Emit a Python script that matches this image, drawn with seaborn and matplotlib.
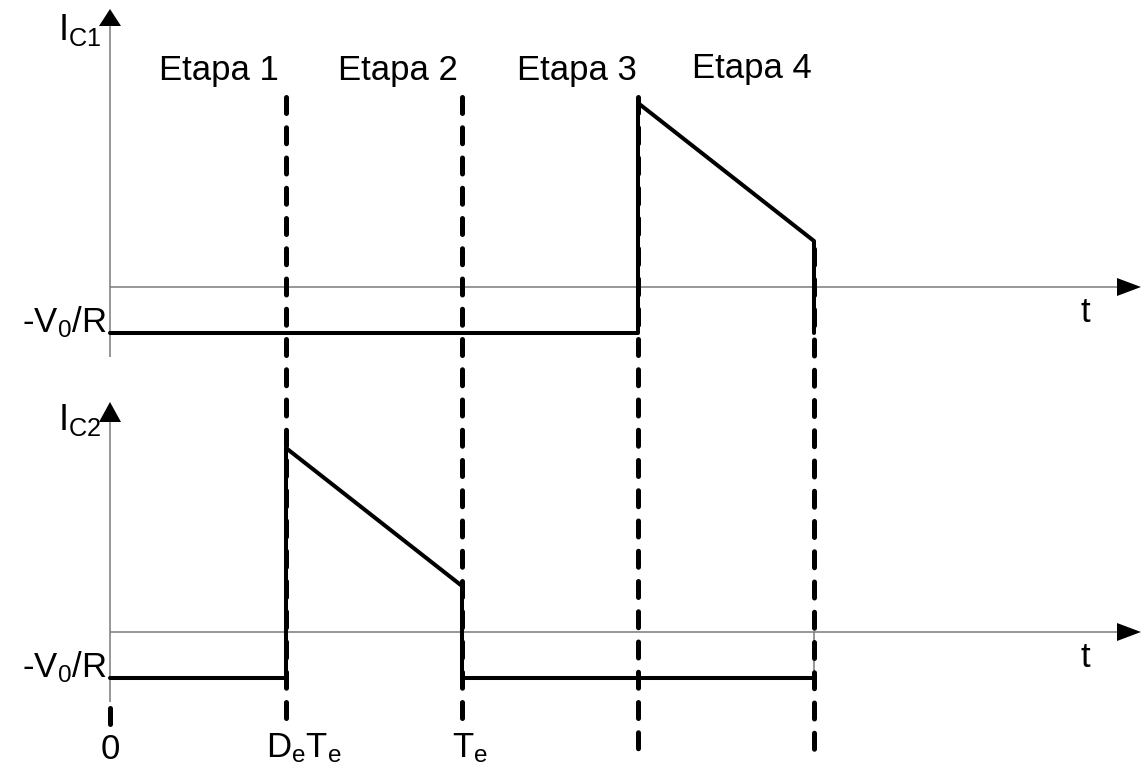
import matplotlib
matplotlib.use("Agg")
import matplotlib.pyplot as plt
import numpy as np
import pandas as pd
import seaborn as sns

sns.set_theme(style="white")
plt.rcParams["font.family"] = ["Liberation Sans", "DejaVu Sans"]
plt.rcParams["mathtext.fontset"] = "custom"
plt.rcParams["mathtext.rm"] = "Liberation Sans"
plt.rcParams["mathtext.it"] = "Liberation Sans"
plt.rcParams["text.color"] = "black"

# ---- data -------------------------------------------------------------
# switching instants, in units of the period Te
t_marks = [0.0, 0.5, 1.0, 1.5, 2.0]
mark_labels = ["0", r"$\mathrm{D_eT_e}$", r"$\mathrm{T_e}$", "", ""]
stage_labels = ["Etapa 1", "Etapa 2", "Etapa 3", "Etapa 4"]

# capacitor currents, in units of V0/R
ic1_t = [0.0, 1.5, 1.5, 2.0, 2.0]
ic1_v = [-1.0, -1.0, 4.0, 1.0, -1.0]
ic2_t = [0.0, 0.5, 0.5, 1.0, 1.0, 2.0]
ic2_v = [-1.0, -1.0, 4.0, 1.0, -1.0, -1.0]

trace_names = [r"$\mathrm{I_{C1}}$", r"$\mathrm{I_{C2}}$"]
level_label = r"-$\mathrm{V_0/R}$"

# ---- layout -----------------------------------------------------------
W, H = 1141, 765
PX_T, PX_U = 352.0, 46.0        # pixels per Te, pixels per V0/R
X0, Y0 = 110.0, 287.0           # pixel position of the upper trace origin
panel_shift = [0.0, -7.5]       # vertical position of each trace's zero
axis_top_px = [261.0, 210.0]    # height of each vertical axis above zero
arrow_len_px = [17.0, 20.0]
FS = 25
GREY = "#7a7a7a"

fig = plt.figure(figsize=(W / 100, H / 100), dpi=100)
ax = fig.add_axes([0, 0, 1, 1])
ax.set_xlim(-X0 / PX_T, (W - X0) / PX_T)
ax.set_ylim(-(H - Y0) / PX_U, Y0 / PX_U)
ax.axis("off")

def px_t(p):
    return p / PX_T

def px_u(p):
    return p / PX_U

# ---- coordinate axes with arrow heads ----------------------------------
x_tip = (W - X0) / PX_T
for k, o in enumerate(panel_shift):
    top = o + px_u(axis_top_px[k])
    ax.plot([0, 0], [top, o - px_u(70)], color=GREY, lw=1.1, solid_capstyle="butt", zorder=1)
    ax.fill([-px_t(11), px_t(11), 0], [top, top, top + px_u(arrow_len_px[k])],
            color="black", lw=0, zorder=3)
    ax.plot([0, x_tip - px_t(20)], [o, o], color=GREY, lw=1.1, solid_capstyle="butt", zorder=1)
    ax.fill([x_tip - px_t(24), x_tip - px_t(24), x_tip],
            [o + px_u(9), o - px_u(9), o], color="black", lw=0, zorder=3)
    ax.annotate("t", (t_marks[-1], o), xytext=(1085 - X0 - PX_T * t_marks[-1], -35),
                textcoords="offset pixels", ha="center", va="baseline", fontsize=FS)
    ax.annotate(trace_names[k], (0, o), xytext=(-9, axis_top_px[k] - 14 + (k * 6)),
                textcoords="offset pixels", ha="right", va="baseline", fontsize=FS + 1)
    ax.annotate(level_label, (0, o - 1), xytext=(-3, 1),
                textcoords="offset pixels", ha="right", va="baseline", fontsize=FS)

# ---- dashed stage boundaries ------------------------------------------
LW_DASH = 3.6                    # points; 5 px at 100 dpi
pattern = (3.2, 2.85)            # in line widths
period_px = sum(pattern) * 5.0
top_px = 100.0
bottoms = {0.5: 727.0, 1.0: 727.0, 1.5: 756.0, 2.0: 756.0}
for t in t_marks[1:]:
    start_px = top_px - 2.5
    y_top = px_u(Y0 - start_px)
    offset = 0.0
    if t == t_marks[-1]:
        y_top = ic1_v[3]
        start = Y0 - PX_U * ic1_v[3]
        offset = ((start - start_px) % period_px) / 5.0
    ax.plot([t, t], [y_top, px_u(Y0 - bottoms[t] + 2.5)], color="black", lw=LW_DASH,
            linestyle=(offset, pattern), dash_capstyle="round", zorder=2)
ax.plot([0, 0], [px_u(Y0 - 707.5), px_u(Y0 - 724.5)], color="black", lw=LW_DASH,
        solid_capstyle="round", zorder=2)

# ---- current waveforms --------------------------------------------------
for k, (tt, vv) in enumerate([(ic1_t, ic1_v), (ic2_t, ic2_v)]):
    df = pd.DataFrame({"t": tt, "i": np.array(vv) + panel_shift[k]})
    sns.lineplot(data=df, x="t", y="i", sort=False, estimator=None, color="black",
                 lw=2.9, ax=ax, zorder=4)
ax.plot([t_marks[-1], t_marks[-1]], [panel_shift[1] - 1, panel_shift[1]],
        color=GREY, lw=1.1, zorder=1)

# ---- text ---------------------------------------------------------------
stage_dx = [21, 24, 27, 26]
stage_dy = [207, 207, 207, 209]
for j, name in enumerate(stage_labels):
    mid = 0.5 * (t_marks[j] + t_marks[j + 1])
    ax.annotate(name, (mid, 0), xytext=(stage_dx[j], stage_dy[j]), textcoords="offset pixels",
                ha="center", va="baseline", fontsize=FS)

mark_dx = [0, 18, 8]
mark_dy = [-127, -125, -125]
for j, lab in enumerate(mark_labels[:3]):
    ax.annotate(lab, (t_marks[j], panel_shift[1]), xytext=(mark_dx[j], mark_dy[j]),
                textcoords="offset pixels", ha="center", va="baseline", fontsize=FS)

fig.savefig("out.png", dpi=100, facecolor="white")
